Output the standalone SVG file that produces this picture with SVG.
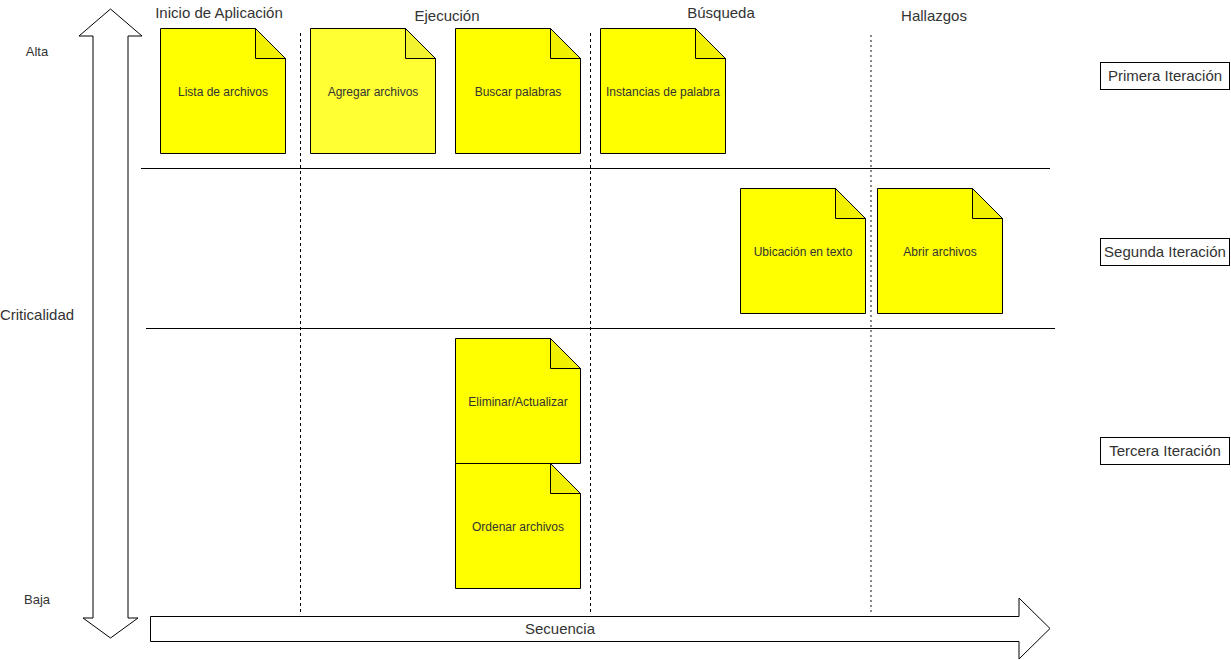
<svg xmlns="http://www.w3.org/2000/svg" width="1231" height="660" viewBox="0 0 1231 660">
<style>
.bg{fill:#fff}
.note{fill:#ffff00;stroke:#000;stroke-width:1}
.fold{fill:#f0f000;stroke:#000;stroke-width:1}
.nt{font-family:"Liberation Sans",Arial,sans-serif;font-size:12px;fill:#333;text-anchor:middle}
.hd{font-family:"Liberation Sans",Arial,sans-serif;font-size:15px;fill:#333;text-anchor:middle}
.lb{font-family:"Liberation Sans",Arial,sans-serif;font-size:15px;fill:#333;text-anchor:middle}
.it{fill:#fff;stroke:#000;stroke-width:1}
.dash{stroke:#000;stroke-width:1;stroke-dasharray:3 3;fill:none}
.dashg{stroke:#888;stroke-width:2;stroke-dasharray:2 3;fill:none}
.sep{stroke:#000;stroke-width:1;fill:none}
.arr{fill:#fff;stroke:#000;stroke-width:1}
</style>
<rect class="bg" x="0" y="0" width="1231" height="660"/>
<g id="connectors">
<line class="dash" x1="300.5" y1="33" x2="300.5" y2="613"/>
<line class="dash" x1="590.5" y1="33" x2="590.5" y2="613"/>
<line class="dashg" x1="871" y1="35" x2="871" y2="613"/>
<line class="sep" x1="141" y1="168.5" x2="1050" y2="168.5"/>
<line class="sep" x1="146" y1="328.5" x2="1055" y2="328.5"/>
</g>
<g id="axis-criticalidad">
<path class="arr" d="M110.5,9 L142,36 L128,36 L128,618 L138,618 L110.5,638 L83,618 L93,618 L93,36 L79,36 Z"/>
</g>
<g id="axis-secuencia">
<path class="arr" d="M150.5,616.5 L1019,616.5 L1019,598 L1050,628.5 L1019,659 L1019,641.5 L150.5,641.5 Z"/>
<text class="hd" x="560" y="634">Secuencia</text>
</g>
<g id="labels">
<text class="hd" x="219" y="18">Inicio de Aplicación</text>
<text class="hd" x="447" y="21">Ejecución</text>
<text class="hd" x="721" y="18">Búsqueda</text>
<text class="hd" x="934" y="21">Hallazgos</text>
<text class="lb" x="37" y="56" style="font-size:13px">Alta</text>
<text class="lb" x="37" y="320">Criticalidad</text>
<text class="lb" x="37" y="604" style="font-size:13px">Baja</text>
</g>
<g id="primera-iteracion">
<rect class="it" x="1100.5" y="62.5" width="129" height="27"/>
<text class="hd" x="1165" y="81">Primera Iteración</text>
</g>
<g id="segunda-iteracion">
<rect class="it" x="1100.5" y="238.5" width="129" height="27"/>
<text class="hd" x="1165" y="257">Segunda Iteración</text>
</g>
<g id="tercera-iteracion">
<rect class="it" x="1100.5" y="437.5" width="129" height="27"/>
<text class="hd" x="1165" y="456">Tercera Iteración</text>
</g>
<g id="note-lista">
<path class="note" d="M160.5,28.5 H255.5 L285.5,58.5 V153.5 H160.5 Z"/>
<path class="fold" d="M255.5,28.5 V58.5 H285.5 Z"/>
<text class="nt" x="223" y="96">Lista de archivos</text>
</g>
<g id="note-agregar">
<path class="note" style="fill:#ffff33" d="M310.5,28.5 H405.5 L435.5,58.5 V153.5 H310.5 Z"/>
<path class="fold" style="fill:#f2f230" d="M405.5,28.5 V58.5 H435.5 Z"/>
<text class="nt" x="373" y="96">Agregar archivos</text>
</g>
<g id="note-buscar">
<path class="note" d="M455.5,28.5 H550.5 L580.5,58.5 V153.5 H455.5 Z"/>
<path class="fold" d="M550.5,28.5 V58.5 H580.5 Z"/>
<text class="nt" x="518" y="96">Buscar palabras</text>
</g>
<g id="note-instancias">
<path class="note" d="M600.5,28.5 H695.5 L725.5,58.5 V153.5 H600.5 Z"/>
<path class="fold" d="M695.5,28.5 V58.5 H725.5 Z"/>
<text class="nt" x="663" y="96">Instancias de palabra</text>
</g>
<g id="note-ubicacion">
<path class="note" d="M740.5,188.5 H835.5 L865.5,218.5 V313.5 H740.5 Z"/>
<path class="fold" d="M835.5,188.5 V218.5 H865.5 Z"/>
<text class="nt" x="803" y="256">Ubicación en texto</text>
</g>
<g id="note-abrir">
<path class="note" d="M877.5,188.5 H972.5 L1002.5,218.5 V313.5 H877.5 Z"/>
<path class="fold" d="M972.5,188.5 V218.5 H1002.5 Z"/>
<text class="nt" x="940" y="256">Abrir archivos</text>
</g>
<g id="note-eliminar">
<path class="note" d="M455.5,338.5 H550.5 L580.5,368.5 V463.5 H455.5 Z"/>
<path class="fold" d="M550.5,338.5 V368.5 H580.5 Z"/>
<text class="nt" x="518" y="406">Eliminar/Actualizar</text>
</g>
<g id="note-ordenar">
<path class="note" d="M455.5,463.5 H550.5 L580.5,493.5 V588.5 H455.5 Z"/>
<path class="fold" d="M550.5,463.5 V493.5 H580.5 Z"/>
<text class="nt" x="518" y="531">Ordenar archivos</text>
</g>
</svg>
